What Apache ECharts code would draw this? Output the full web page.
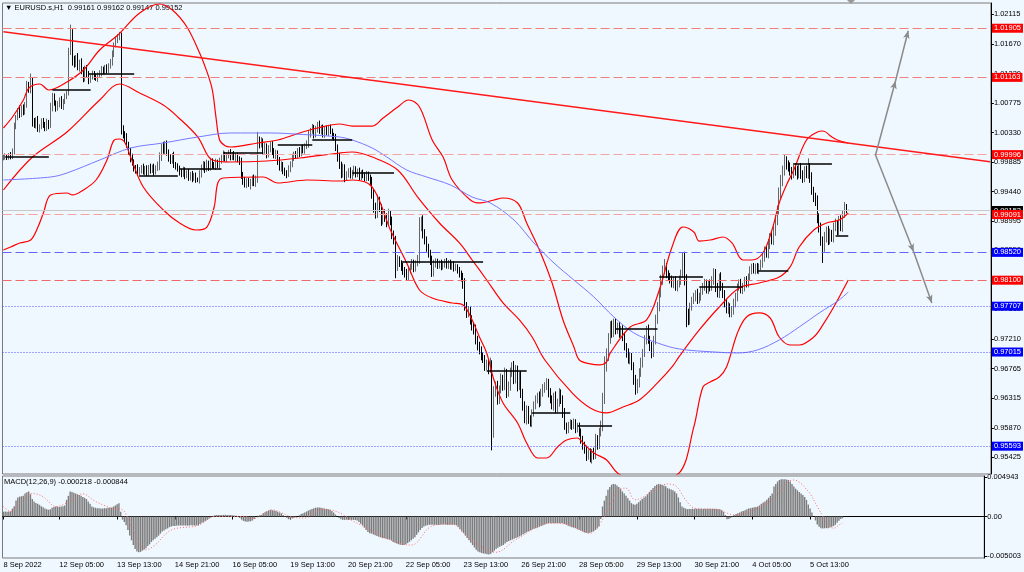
<!DOCTYPE html>
<html><head><meta charset="utf-8">
<script src="https://cdn.jsdelivr.net/npm/echarts@6/dist/echarts.min.js"></script>
<style>html,body{margin:0;padding:0;background:#F0F8FF}#c{width:1024px;height:572px}</style>
</head><body><div id="c"></div>
<script>
// ---------------- DATA (prices x1e5) ----------------
const firstOpen = 99940;
const closes = [
99960,99975,99950,99985,99970,100050,100420,100550,100670,100610,
100700,100640,100760,101050,100980,101100,100500,100450,100520,100380,
100420,100500,100460,100400,100480,100440,100700,100880,100780,100700,
100760,100820,100730,100800,100870,100920,101550,101800,101420,101380,
101450,101320,101390,101250,101150,101300,101200,101120,101180,101220,
101170,101150,101200,101230,101280,101250,101310,101270,101330,101380,
101520,101650,101720,101770,101820,100380,100300,100250,100150,100050,
99950,99880,99800,99780,99720,99760,99800,99740,99780,99720,
99800,99760,99810,99740,99790,99820,99950,100100,100050,100150,
100030,99950,99900,99980,99850,99820,99780,99740,99700,99760,
99680,99720,99650,99700,99640,99680,99620,99600,99700,99800,
99850,99780,99860,99800,99900,99850,99820,99880,99840,99900,
99950,100000,99940,99980,100020,99960,100000,99950,99980,99930,
99900,99700,99600,99550,99600,99520,99580,99640,99560,99620,
100220,100150,100200,100050,100120,100000,100080,100150,100050,99980,
100020,99900,99800,99850,99750,99720,99700,99780,99850,99950,
100000,99980,100050,100020,100100,100060,100120,100150,100300,100350,
100400,100300,100380,100450,100350,100400,100300,100380,100330,100400,
100350,100280,100250,100100,99950,99850,99700,99800,99650,99700,
99750,99680,99720,99780,99700,99740,99660,99720,99680,99640,
99700,99650,99600,99400,99200,99100,99300,99200,99000,99100,
99050,98980,99100,99000,98800,98700,98300,98400,98350,98300,
98250,98200,98150,98250,98300,98350,98280,98350,98400,98900,
99000,98800,98700,98600,98500,98400,98200,98350,98380,98320,
98360,98300,98340,98380,98320,98360,98300,98340,98280,98300,
98250,98200,98150,98050,97700,97600,97650,97500,97400,97350,
97200,97100,97050,96950,96900,96800,96850,96750,96850,95800,
96400,96500,96300,96450,96600,96500,96700,96400,96500,96700,
96800,96600,96750,96500,96650,96400,96200,96000,96150,96000,
95950,96100,96200,96300,96350,96250,96400,96450,96500,96550,
96400,96300,96200,96350,96150,96250,96400,96300,96100,95900,
95850,95900,95950,95900,95950,95850,95900,95800,95700,95600,
95550,95450,95500,95400,95500,95450,95700,95600,95800,95900,
96300,96800,96950,97200,97400,97300,97450,97350,97400,97300,
97350,97250,97100,97000,96900,96950,96800,96600,96450,96550,
96700,96850,97000,97200,97350,97200,97100,97000,97200,97500,
97700,97900,98100,98250,98300,98200,98150,98100,98050,98100,
98000,98050,98100,98200,98450,98100,97600,97500,97700,97800,
97850,97900,97800,97850,97950,98000,98050,97950,98050,98000,
98100,98200,98000,97900,98150,98000,97900,97750,97650,97700,
97600,97650,97750,97850,98000,98050,97950,98000,98100,98050,
98150,98250,98300,98250,98300,98250,98300,98350,98450,98550,
98500,98650,98750,98700,98850,99000,99150,99400,99600,99750,
99900,99850,99800,99750,99700,99800,99750,99700,99800,99700,
99650,99750,99700,99800,99650,99450,99350,99300,99050,98900,
98700,98600,98750,98850,98700,98800,98750,98900,98950,98850,
99000,98900,99100,99200,99161,99152];
const wickUp = [
30,40,25,35,50,40,60,45,30,70, 40,55,30,60,45,120,60,50,40,60, 35,45,50,30,60,40,80,50,40,35,
45,40,60,35,50,40,60,160,90,70, 50,80,40,60,70,40,50,60,30,45, 40,50,35,40,55,45,40,50,45,60,
50,40,60,45,30,20,60,50,70,40, 50,60,45,40,70,50,40,60,45,55, 40,60,35,50,45,70,80,60,90,50,
60,45,50,40,60,35,45,50,40,55, 45,40,60,35,50,40,45,30,60,45, 50,40,60,45,50,40,35,55,40,50,
45,60,40,50,45,60,35,50,40,45, 40,50,35,60,40,45,50,40,55,60, 120,50,60,40,55,45,60,40,50,45,
50,40,60,45,35,50,40,55,45,60, 40,50,45,60,40,50,45,60,70,50, 60,45,50,40,60,45,50,40,55,45,
50,40,45,60,50,70,40,60,50,45, 40,55,45,50,40,45,60,40,50,45, 50,40,45,60,80,70,90,60,50,80,
70,60,80,50,60,50,70,80,60,50, 60,50,70,60,50,70,60,50,80,150, 60,80,70,60,50,60,70,60,50,45,
40,50,45,40,55,45,50,40,45,50, 40,50,45,60,80,70,60,50,70,60, 80,60,70,50,60,70,50,60,80,40,
100,70,80,60,90,70,80,60,70,80, 60,80,70,60,70,80,60,70,60,50, 60,50,70,60,50,70,60,80,60,70,
60,70,60,50,70,60,70,50,60,70, 50,60,50,40,60,50,45,50,60,50, 60,50,45,60,50,70,80,60,70,80,
100,150,120,100,80,90,70,80,60,70, 60,70,60,50,70,60,50,60,70,60, 70,80,60,70,60,80,60,70,60,80,
70,60,80,70,120,60,50,60,70,50, 60,50,70,60,60,80,90,70,60,50, 60,50,70,60,50,60,70,60,50,60,
60,80,70,60,50,70,60,50,60,70, 50,60,70,60,50,60,70,60,50,60, 50,60,50,60,50,60,50,60,70,60,
60,70,60,80,70,90,80,100,90,80, 90,70,60,80,60,70,60,80,60,70, 60,70,80,140,70,80,60,70,80,60,
70,60,80,60,70,80,60,70,80,60, 70,80,60,80,50,1];
const wickDn = [
30,40,35,30,45,40,50,40,35,60, 45,50,40,55,50,60,80,50,60,40, 50,40,60,50,45,60,40,50,45,55,
40,50,45,60,40,35,30,50,80,70, 60,50,70,40,60,50,45,60,40,50, 45,40,55,40,50,40,45,50,40,35,
40,50,35,40,45,80,60,70,50,60, 70,50,60,70,40,60,50,45,60,50, 45,50,40,60,45,40,60,50,40,60,
50,60,45,40,55,50,40,60,45,40, 55,40,50,45,60,40,50,20,40,50, 45,60,40,50,45,60,40,50,45,55,
40,50,45,60,40,50,45,40,60,50, 60,70,60,50,60,10,50,60,40,50, 50,60,45,50,40,60,45,50,60,40,
50,60,45,60,50,45,60,40,50,45, 50,45,40,60,50,45,50,40,50,45, 40,60,45,50,40,50,45,50,40,55,
45,50,40,50,60,70,60,50,70,45, 50,45,55,40,50,45,60,50,40,50, 45,50,60,70,80,70,60,70,80,60,
70,80,60,70,80,60,170,60,50,60, 70,60,50,60,50,45,60,50,40,50, 60,70,60,70,60,70,50,45,60,50,
45,50,40,50,45,50,40,45,50,40, 50,60,70,80,60,70,60,70,60,70, 70,60,70,60,50,70,60,70,50,270,
80,60,80,70,60,70,60,80,60,70, 60,70,60,80,60,80,70,60,80,70, 60,70,60,50,60,70,50,60,50,60,
70,60,50,70,60,50,60,70,80,60, 70,60,50,60,50,60,50,60,70,60, 70,80,60,50,70,60,50,60,50,60,
80,70,80,70,60,70,60,70,60,70, 60,70,60,70,60,70,60,80,80,60, 70,60,70,60,70,60,70,80,60,70,
60,70,60,70,60,70,60,50,60,70, 60,70,60,70,60,80,210,80,70,60, 60,70,60,50,60,70,60,50,60,70,
60,70,80,60,70,60,70,60,50,60, 60,60,70,60,70,60,50,60,70,60, 60,50,60,50,60,50,60,50,60,70,
60,70,80,60,70,80,70,60,70,80, 70,80,60,70,80,60,70,80,60,70, 80,70,60,70,80,60,70,80,90,80,
80,240,70,80,70,60,70,80,60,70, 70,60,70,60,50,5];
// MACD histogram (x1e-5)
const macdHist = [
60,62,60,63,65,100,130,200,240,250, 255,260,290,305,315,280,220,190,170,160,
147,130,115,100,90,85,90,110,120,125, 125,120,126,130,140,210,260,315,310,300,
290,280,270,260,245,235,220,190,160,126, 115,110,105,105,100,100,105,105,110,110,
112,125,140,155,168,60,-40,-70,-110,-170, -240,-300,-360,-410,-440,-450,-445,-430,-415,-400,
-370,-350,-320,-300,-280,-260,-240,-215,-190,-175, -160,-150,-135,-126,-120,-118,-115,-113,-112,-112,
-113,-113,-115,-113,-110,-112,-113,-113,-110,-95, -80,-65,-55,-42,-25,-10,5,15,18,20,
20,20,20,22,20,20,18,15,12,10, 5,-20,-40,-55,-63,-65,-63,-60,-50,-30,
0,10,15,20,40,55,65,75,84,80, 75,70,60,50,40,20,5,-15,-34,-30,
-25,-15,-8,0,15,30,40,50,63,75, 85,95,105,110,113,112,110,105,100,95,
90,84,70,50,25,0,-20,-35,-42,-42, -42,-40,-42,-45,-42,-45,-50,-70,-90,-110,
-140,-170,-195,-210,-215,-225,-235,-245,-255,-262, -270,-275,-280,-285,-290,-300,-320,-330,-340,-350,
-355,-360,-360,-350,-335,-320,-300,-280,-260,-230, -200,-170,-145,-126,-115,-110,-105,-105,-105,-105,
-105,-105,-105,-100,-100,-102,-105,-105,-105,-105, -105,-110,-130,-160,-190,-210,-240,-270,-300,-330,
-360,-390,-420,-440,-450,-460,-465,-470,-475,-480, -470,-450,-430,-410,-395,-380,-370,-360,-340,-320,
-310,-300,-290,-280,-270,-260,-250,-240,-225,-210, -195,-185,-175,-165,-155,-147,-140,-130,-120,-110,
-100,-90,-84,-84,-84,-84,-84,-84,-84,-84, -86,-95,-105,-115,-125,-135,-140,-147,-160,-170,
-180,-190,-200,-205,-210,-205,-195,-185,-170,-150, -126,-30,126,200,260,336,370,400,410,405,
390,370,345,315,290,260,230,200,168,155, 147,160,180,200,220,240,255,280,310,335,
360,385,400,410,405,400,390,380,357,350, 340,330,315,290,240,180,126,110,100,92,
95,95,97,97,97,97,97,97,96,97, 98,98,97,97,96,97,95,90,80,60,
20,-34,-30,-15,5,20,30,40,50,63, 70,80,90,100,105,110,115,120,126,140,
160,175,190,210,235,260,290,378,410,440, 460,470,470,468,465,460,440,410,378,350,
330,310,290,270,245,210,150,100,50,0, -50,-100,-130,-147,-150,-148,-147,-147,-140,-130,
-120,-105,-80,-55,-30,-22];
const macdSignal = [[0,126],[4,63],[9,168],[16,290],[22,250],[29,126],[37,190],[44,286],[51,190],[60,105],[66,84],[71,-126],[79,-420],[84,-360],[93,-170],[108,-113],[117,0],[134,0],[138,-30],[149,84],[159,0],[167,-20],[176,90],[185,60],[196,-84],[226,-360],[237,-126],[248,-92],[259,-290],[273,-450],[284,-290],[303,-84],[314,-105],[325,-210],[332,-40],[341,336],[345,357],[350,210],[361,336],[368,410],[373,378],[378,210],[383,105],[396,84],[405,20],[418,105],[427,230],[435,440],[438,460],[446,315],[451,126],[457,-105],[460,-147],[464,-92],[465,-84]];
// Bollinger bands & MA: [bar index, price]
const bbUpper = [[0,1.00398],[5,1.00564],[11,1.00821],[14,1.01002],[20,1.01063],[25,1.00972],[35,1.01093],[44,1.01274],[53,1.01576],[63,1.01802],[75,1.02135],[86,1.02271],[93,1.0218],[101,1.01923],[108,1.01531],[112,1.0125],[115,1.00972],[117,1.0056],[119,1.00217],[122,1.0013],[125,1.00111],[140,1.00172],[151,1.00217],[163,1.00323],[173,1.00398],[185,1.00459],[192,1.00428],[203,1.00428],[209,1.00549],[217,1.00715],[223,1.00821],[229,1.00715],[236,1.00217],[242,0.9996],[247,0.99613],[257,0.99311],[262,0.99266],[270,0.99311],[275,0.99341],[283,0.99266],[288,0.98964],[295,0.98556],[302,0.98058],[308,0.97499],[314,0.97091],[317,0.96895],[323,0.96835],[328,0.9682],[332,0.96865],[334,0.97001],[345,0.97393],[354,0.97499],[361,0.97952],[368,0.98601],[374,0.98903],[380,0.98828],[383,0.9869],[389,0.98707],[396,0.98752],[401,0.98662],[407,0.98405],[412,0.98405],[418,0.98511],[423,0.98858],[427,0.99266],[431,0.99538],[435,0.99764],[442,1.00217],[448,1.00338],[451,1.00353],[456,1.00262],[459,1.00217],[465,1.00172]];
const bbMiddle = [[0,0.99462],[16,0.9996],[35,1.00338],[53,1.00821],[64,1.01063],[75,1.00927],[88,1.00745],[96,1.00564],[107,1.00262],[115,0.99915],[125,0.99885],[145,0.999],[163,0.99945],[185,1.00021],[192,1.00036],[203,0.9996],[217,0.99764],[228,0.99356],[240,0.98964],[251,0.98662],[258,0.98405],[266,0.98103],[275,0.97756],[284,0.97499],[291,0.97242],[298,0.96895],[313,0.96397],[323,0.9617],[332,0.96095],[341,0.96185],[350,0.96291],[360,0.96548],[368,0.96789],[372,0.9695],[383,0.97348],[394,0.97695],[405,0.97982],[416,0.98058],[427,0.98148],[433,0.983],[438,0.98601],[446,0.98858],[453,0.98964],[460,0.99009],[465,0.99115]];
const bbLower = [[0,0.98556],[4,0.98601],[9,0.98662],[15,0.98707],[19,0.98903],[22,0.99115],[26,0.99387],[35,0.99417],[38,0.99387],[44,0.99462],[51,0.99613],[57,0.99915],[61,1.00217],[64,1.00232],[67,1.00172],[70,0.9996],[77,0.99507],[88,0.9916],[97,0.98964],[106,0.98858],[112,0.98903],[116,0.99205],[118,0.99568],[121,0.99643],[143,0.99658],[151,0.99568],[167,0.99613],[185,0.99598],[192,0.99613],[203,0.99507],[213,0.98858],[222,0.9836],[229,0.97952],[236,0.97831],[247,0.97756],[253,0.97726],[258,0.97499],[262,0.97242],[266,0.97001],[270,0.96593],[275,0.96246],[283,0.95944],[288,0.95642],[294,0.95415],[299,0.95415],[305,0.95581],[310,0.95687],[316,0.95717],[319,0.95642],[325,0.9549],[332,0.95385],[338,0.95189],[345,0.95113],[359,0.95113],[372,0.95189],[380,0.95884],[385,0.96487],[389,0.96563],[394,0.96638],[398,0.96789],[404,0.97303],[409,0.97544],[416,0.97605],[422,0.97529],[427,0.97242],[433,0.97121],[438,0.97121],[446,0.97242],[451,0.97424],[457,0.97695],[465,0.98103]];
const maBlue = [[0,0.99613],[26,0.99658],[35,0.99719],[53,0.99915],[70,1.00096],[88,1.00172],[107,1.00262],[125,1.00323],[147,1.00323],[165,1.003],[185,1.00262],[192,1.00217],[203,1.00096],[211,0.9996],[222,0.99764],[233,0.99658],[246,0.99538],[258,0.99356],[268,0.99266],[281,0.99009],[292,0.98662],[303,0.9836],[314,0.98103],[325,0.97846],[336,0.97544],[347,0.97303],[360,0.97152],[372,0.97061],[391,0.97016],[404,0.97001],[415,0.97046],[427,0.97197],[438,0.97393],[449,0.97605],[460,0.97801],[465,0.97922]];
// horizontal levels
const levelPrices = [1.01905, 1.01163, 0.99996, 0.99091, 0.98520, 0.98100, 0.97707, 0.97015, 0.95593];
// daily segments: [startBar, endBar, price]
const dayLines = [[1,25,0.9996],[27,48,1.00972],[47,72,1.01214],[75,96,0.99678],[97,120,0.99779],[121,143,1.0002],[151,170,1.00141],[170,192,1.00217],[192,215,0.99719],[219,264,0.98375],[266,288,0.96729],[291,312,0.96095],[316,335,0.95898],[337,360,0.97363],[361,385,0.98148],[383,407,0.97997],[415,432,0.98239],[435,456,0.99855],[458,465,0.98767]];
const trendLine = [[0,1.01851],[543,0.99889]];
const arrowPaths = [[[480,0.99991],[491,1.01108]],[[491,1.01108],[498,1.01867]],[[480,0.99991],[501,0.9853]],[[501,0.9853],[511,0.97756]]];
// axis ticks
const priceTicks = [1.02115,1.0167,1.0122,1.00775,1.0033,0.99885,0.9944,0.98995,0.9855,0.98105,0.9766,0.9721,0.96765,0.96315,0.9587,0.95425];
const priceTickLabels = ['1.02115','1.01670','1.01220','1.00775','1.00330','0.99885','0.99440','0.98995','0.98550','0.98105','0.97660','0.97210','0.96765','0.96315','0.95870','0.95425'];
const macdTicks = [0.004943, 0, -0.005003];
const macdTickLabels = ['0.004943','0.00','-0.005003'];
const timeLabels = ['8 Sep 2022','12 Sep 05:00','13 Sep 13:00','14 Sep 21:00','16 Sep 05:00','19 Sep 13:00','20 Sep 21:00','22 Sep 05:00','23 Sep 13:00','26 Sep 21:00','28 Sep 05:00','29 Sep 13:00','30 Sep 21:00','4 Oct 05:00','5 Oct 13:00'];
const timeLabelIdx = [0,31,63,95,127,159,191,223,255,287,319,351,383,415,447];
const N_SLOTS = 544;

// ---------------- BUILD ----------------
const FONT = 'Liberation Sans';
const candles = closes.map((c, i) => {
  const o = i === 0 ? firstOpen : closes[i - 1];
  const hi = Math.max(o, c) + wickUp[i], lo = Math.min(o, c) - wickDn[i];
  return [o / 1e5, c / 1e5, lo / 1e5, hi / 1e5];
});
const lastPrice = closes[closes.length - 1] / 1e5;
const labelMap = {};
timeLabelIdx.forEach((ix, k) => labelMap[ix] = timeLabels[k]);
const slots = Array.from({length: N_SLOTS}, (_, i) => String(i));

const levelStyles = [
  {c:'#F08080', t:[9,4], bg:'#FF0000'}, {c:'#F08080', t:[9,4], bg:'#FF0000'},
  {c:'#F5A3A3', t:[9,4], bg:'#FF0000'}, {c:'#F5A3A3', t:[9,4], bg:'#FF0000'},
  {c:'#6464FF', t:[9,4], bg:'#0000FF'}, {c:'#F06868', t:[9,4], bg:'#FF0000'},
  {c:'#5050FF', t:[1,2], bg:'#0000FF'}, {c:'#5050FF', t:[1,2], bg:'#0000FF'},
  {c:'#5050FF', t:[1,2], bg:'#0000FF'}
];
const lblBase = {show:true, position:'end', distance:1, fontSize:7.5, fontFamily:FONT, color:'#fff', padding:[1,2,0,2]};
const ml = [];
ml.push({yAxis:lastPrice, lineStyle:{color:'#C8C8C8', width:1, type:'solid'},
  label:Object.assign({}, lblBase, {backgroundColor:'#000', formatter:lastPrice.toFixed(5)})});
levelPrices.forEach((p, k) => {
  const s = levelStyles[k];
  ml.push({yAxis:p, lineStyle:{color:s.c, width:1.2, type:s.t},
    label:Object.assign({}, lblBase, {backgroundColor:s.bg, formatter:p.toFixed(5)})});
});
dayLines.forEach(d => ml.push([{coord:[d[0], d[2]], lineStyle:{color:'#000', width:1.5, type:'solid'}, label:{show:false}}, {coord:[d[1], d[2]]}]));
ml.push([{coord:trendLine[0], lineStyle:{color:'#FF1a1a', width:1.5, type:'solid'}, label:{show:false}}, {coord:trendLine[1]}]);
arrowPaths.forEach(a => ml.push([{coord:a[0], symbol:'none', lineStyle:{color:'#8a8a8a', width:1.5, type:'solid'}, label:{show:false}}, {coord:a[1], symbol:'arrow', symbolSize:[5,8]}]));

function curve(d, color, w) {
  return {type:'line', xAxisIndex:0, yAxisIndex:0, data:d, smooth:0.35, showSymbol:false, symbol:'none',
    lineStyle:{color:color, width:w}, itemStyle:{color:color}, z:3, silent:true};
}

const chart = echarts.init(document.getElementById('c'), null, {renderer:'canvas'});
chart.setOption({
  animation:false,
  backgroundColor:'#F0F8FF',
  grid:[
    {left:2.5, top:3, width:988.5, height:471, show:true, borderColor:'#7a7a7a', borderWidth:1},
    {left:2.5, top:476, width:988.5, height:82, show:true, borderColor:'#7a7a7a', borderWidth:1}
  ],
  xAxis:[
    {type:'category', gridIndex:0, data:slots, boundaryGap:true, axisLine:{show:false}, axisTick:{show:false}, axisLabel:{show:false}, splitLine:{show:false}},
    {type:'category', gridIndex:1, data:slots, boundaryGap:true,
      axisLine:{show:true, lineStyle:{color:'#000', width:1}},
      axisTick:{show:true, alignWithLabel:true, length:3, interval:(i) => labelMap[i] !== undefined, lineStyle:{color:'#000'}},
      axisLabel:{show:true, interval:(i) => labelMap[i] !== undefined, formatter:(v, i) => labelMap[i] || '', align:'left', margin:3, fontSize:7.5, fontFamily:FONT, color:'#000'},
      splitLine:{show:false}}
  ],
  yAxis:[
    {type:'value', gridIndex:0, position:'right', min:0.95173, max:1.02286, scale:true, splitLine:{show:false},
      axisLine:{show:true, lineStyle:{color:'#000', width:1}},
      axisTick:{show:true, length:3, customValues:priceTicks, lineStyle:{color:'#000'}},
      axisLabel:{show:true, customValues:priceTicks, margin:3, fontSize:7.5, fontFamily:FONT, color:'#000',
        formatter:(v) => { let j = priceTicks.findIndex(t => Math.abs(t - v) < 1e-7); return j >= 0 ? priceTickLabels[j] : ''; }}},
    {type:'value', gridIndex:1, position:'right', min:-0.005225, max:0.0051, splitLine:{show:false},
      axisLine:{show:true, lineStyle:{color:'#000', width:1}},
      axisTick:{show:true, length:3, customValues:macdTicks, lineStyle:{color:'#000'}},
      axisLabel:{show:true, customValues:macdTicks, margin:3, fontSize:7.5, fontFamily:FONT, color:'#000',
        formatter:(v) => { let j = macdTicks.findIndex(t => Math.abs(t - v) < 1e-9); return j >= 0 ? macdTickLabels[j] : ''; }}}
  ],
  series:[
    {type:'candlestick', xAxisIndex:0, yAxisIndex:0, data:candles, barWidth:1.3, silent:true, z:2,
      itemStyle:{color:'#b4b4b4', color0:'#000000', borderColor:'#666666', borderColor0:'#000000', borderWidth:1},
      markLine:{silent:true, animation:false, symbol:['none','none'], precision:5, data:ml}},
    curve(bbUpper, '#FF0000', 1.2),
    curve(bbMiddle, '#FF0000', 1.2),
    curve(bbLower, '#FF0000', 1.2),
    curve(maBlue, '#7878FF', 1),
    {type:'bar', xAxisIndex:1, yAxisIndex:1, data:macdHist.map(v => v / 1e5), barWidth:1.4, silent:true,
      itemStyle:{color:'#7c7c7c'}},
    {type:'line', xAxisIndex:1, yAxisIndex:1, data:macdSignal.map(p => [p[0], p[1] / 1e5]), smooth:0.35, showSymbol:false, symbol:'none', silent:true,
      lineStyle:{color:'#FF6a6a', width:1, type:[1,2]}, z:3}
  ],
  graphic:[
    {type:'text', left:5, top:4, silent:true, style:{text:'\u25BC EURUSD.s,H1  0.99161 0.99162 0.99147 0.99152', fontSize:7.5, fontFamily:FONT, fill:'#000'}},
    {type:'text', left:4, top:478, silent:true, style:{text:'MACD(12,26,9) -0.000218 -0.000844', fontSize:7.5, fontFamily:FONT, fill:'#000'}},
    {type:'polygon', silent:true, shape:{points:[[847,0],[855,0],[851,4]]}, style:{fill:'#9a9a9a'}}
  ]
});
</script></body></html>
